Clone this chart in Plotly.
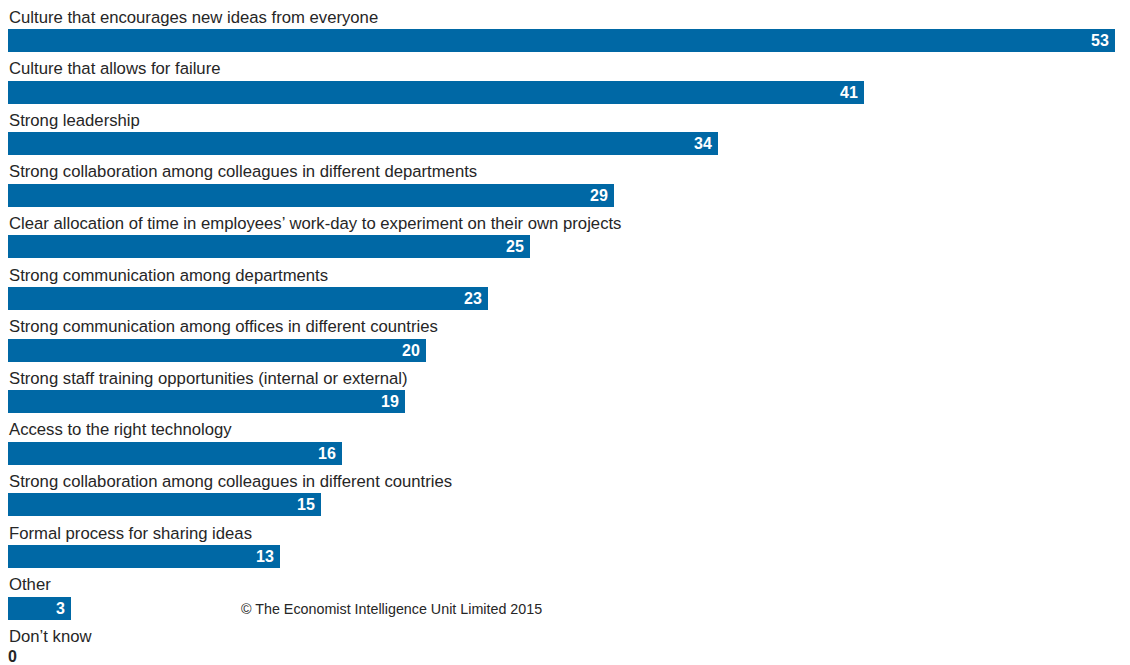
import plotly.graph_objects as go

categories = [
    "Culture that encourages new ideas from everyone",
    "Culture that allows for failure",
    "Strong leadership",
    "Strong collaboration among colleagues in different departments",
    "Clear allocation of time in employees\u2019 work-day to experiment on their own projects",
    "Strong communication among departments",
    "Strong communication among offices in different countries",
    "Strong staff training opportunities (internal or external)",
    "Access to the right technology",
    "Strong collaboration among colleagues in different countries",
    "Formal process for sharing ideas",
    "Other",
    "Don\u2019t know",
]
values = [53, 41, 34, 29, 25, 23, 20, 19, 16, 15, 13, 3, 0]

BLUE = "#0068A5"
TEXT = "#262626"
FONT = "Liberation Sans"
PX_PER_UNIT = 20.89
ROW = 51.6

pos = list(range(len(categories)))
fig = go.Figure()
fig.add_trace(go.Bar(
    x=values, y=pos, orientation="h", width=0.446,
    marker=dict(color=BLUE, line=dict(width=0)),
    hoverinfo="x+y",
))

ann = []
for i, (c, v) in enumerate(zip(categories, values)):
    ann.append(dict(x=0, y=i - 0.455, xref="x", yref="y", text=c, showarrow=False,
                    xanchor="left", yanchor="middle", xshift=-1,
                    font=dict(family=FONT, size=16.7, color=TEXT)))
    if v > 0:
        ann.append(dict(x=v, y=i, xref="x", yref="y", text="<b>%d</b>" % v, showarrow=False,
                        xanchor="right", yanchor="middle", xshift=-4,
                        font=dict(family=FONT, size=16, color="white")))
    else:
        ann.append(dict(x=0, y=i, xref="x", yref="y", text="<b>%d</b>" % v, showarrow=False,
                        xanchor="left", yanchor="middle", xshift=-2, yshift=3,
                        font=dict(family=FONT, size=16, color=TEXT)))
ann.append(dict(x=383 / 1130, y=1 - 601 / 665, xref="paper", yref="paper",
                text="\u00a9 The Economist Intelligence Unit Limited 2015",
                showarrow=False, xanchor="center", yanchor="middle",
                font=dict(family=FONT, size=14.3, color=TEXT)))

fig.update_layout(
    width=1130, height=665,
    margin=dict(l=0, r=0, t=0, b=0),
    paper_bgcolor="white", plot_bgcolor="white",
    showlegend=False,
    xaxis=dict(range=[0, 1130 / PX_PER_UNIT], visible=False, fixedrange=True),
    yaxis=dict(range=[(665 - 32.5) / ROW, -32.5 / ROW], visible=False, fixedrange=True),
    annotations=ann,
    bargap=0,
)
fig.write_html("out.html")
